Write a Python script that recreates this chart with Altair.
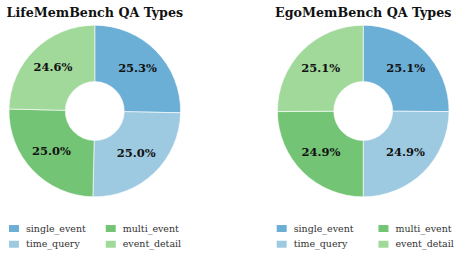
import altair as alt
import pandas as pd

# QA type shares (percent) for the two benchmarks
categories = ["single_event", "time_query", "multi_event", "event_detail"]
life_values = [25.3, 25.0, 25.0, 24.6]
ego_values = [25.1, 24.9, 24.9, 25.1]
titles = ["LifeMemBench QA Types", "EgoMemBench QA Types"]

palette = ["#6baed6", "#9ecae1", "#74c476", "#a1d99b"]

SERIF = "DejaVu Serif"
W, H = 190, 256
CX, CY = 95, 111


def donut(values, title, legend_x, col_pad):
    df = pd.DataFrame({
        "type": categories,
        "pct": values,
        "idx": list(range(len(categories))),
    })
    df["label"] = [f"{v:.1f}%" for v in values]
    base = alt.Chart(df).encode(
        theta=alt.Theta("pct:Q", stack=True),
        order=alt.Order("idx:Q"),
    )
    arcs = base.mark_arc(
        outerRadius=86, innerRadius=29.5, stroke="white", strokeWidth=0.6
    ).encode(
        x=alt.value(CX),
        y=alt.value(CY),
        color=alt.Color(
            "type:N",
            scale=alt.Scale(domain=categories, range=palette),
            legend=alt.Legend(
                title=None,
                orient="none",
                legendX=legend_x,
                legendY=223.5,
                columns=2,
                columnPadding=col_pad,
                rowPadding=6,
                symbolType="M-1,-0.7H1V0.7H-1Z",
                symbolSize=100,
                symbolStrokeWidth=0,
                symbolOffset=0,
                labelFont=SERIF,
                labelFontSize=9.5,
                labelColor="#333333",
                labelOffset=7,
                padding=0,
            ),
        ),
    )
    labels = base.mark_text(
        radius=60, font=SERIF, fontSize=11.5, fontWeight="bold", color="#111111"
    ).encode(
        x=alt.value(CX),
        y=alt.value(CY),
        text="label:N",
    )
    heading = alt.Chart(pd.DataFrame({"t": [title]})).mark_text(
        font=SERIF, fontSize=12.7, fontWeight="bold", color="#111111",
        baseline="alphabetic", align="center"
    ).encode(
        x=alt.value(CX),
        y=alt.value(16.5),
        text="t:N",
    )
    return alt.layer(arcs, labels, heading).properties(width=W, height=H)


chart = alt.hconcat(
    donut(life_values, titles[0], 9, 19),
    donut(ego_values, titles[1], 8.3, 24),
    spacing=79,
).resolve_scale(
    color="independent"
).configure_view(
    stroke=None
).properties(
    padding=0, background="white"
)

chart.save("out.html", embed_options={"renderer": "svg", "actions": False})
